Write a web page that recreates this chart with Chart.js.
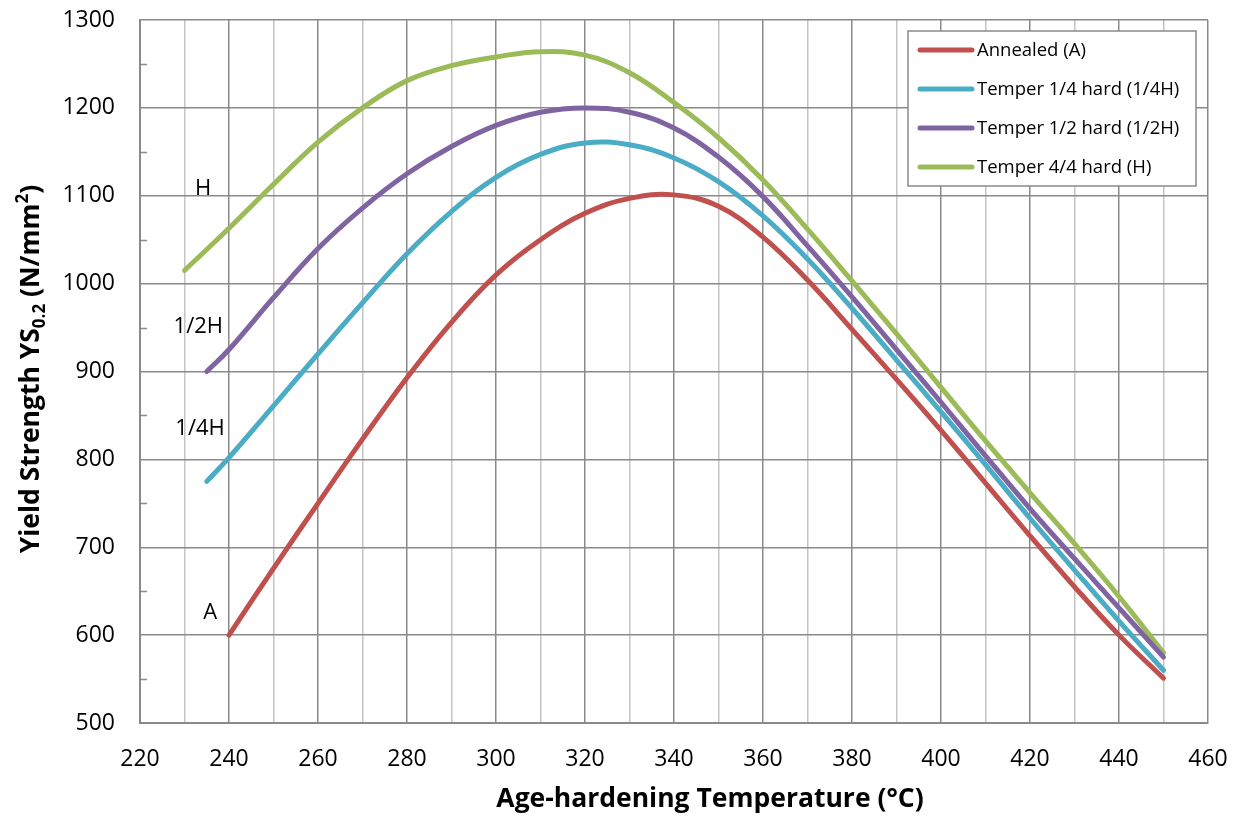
<!DOCTYPE html>
<html>
<head>
<meta charset="utf-8">
<script src="https://cdn.jsdelivr.net/npm/chart.js@4/dist/chart.umd.min.js"></script>
<style>
  body { margin: 0; background: #fff; }
  #wrap { width: 1237px; height: 817px; }
</style>
</head>
<body>
<div id="wrap"><canvas id="chart" width="1237" height="817"></canvas></div>
<script>
// 1. Data
const tempA = [240, 250, 260, 270, 280, 290, 300, 310, 320, 330, 340, 350, 360, 370, 380, 390, 400, 410, 420, 430, 440, 450];
const ysA = [600, 676, 750, 823, 893, 956, 1010, 1050, 1080, 1097, 1101, 1088, 1053, 1004, 948, 891, 833, 773, 713, 655, 600, 551];

const tempQuarter = [235, 240, 250, 260, 270, 280, 290, 300, 310, 320, 330, 340, 350, 360, 370, 380, 390, 400, 410, 420, 430, 440, 450];
const ysQuarter = [775, 802, 861, 920, 978, 1034, 1082, 1121, 1147, 1160, 1158, 1143, 1116, 1077, 1028, 972, 913, 854, 794, 733, 674, 616, 560];

const tempHalf = [235, 240, 250, 260, 270, 280, 290, 300, 310, 320, 330, 340, 350, 360, 370, 380, 390, 400, 410, 420, 430, 440, 450];
const ysHalf = [900, 925, 984, 1040, 1086, 1125, 1156, 1180, 1195, 1200, 1195, 1177, 1144, 1099, 1043, 985, 925, 865, 804, 744, 687, 631, 575];

const tempH = [230, 240, 250, 260, 270, 280, 290, 300, 310, 320, 330, 340, 350, 360, 370, 380, 390, 400, 410, 420, 430, 440, 450];
const ysH = [1015, 1063, 1113, 1161, 1200, 1231, 1248, 1258, 1264, 1260, 1240, 1206, 1166, 1118, 1062, 1003, 943, 882, 821, 762, 704, 644, 580];

const seriesNames = ['Annealed (A)', 'Temper 1/4 hard (1/4H)', 'Temper 1/2 hard (1/2H)', 'Temper 4/4 hard (H)'];
const shortNames = ['A', '1/4H', '1/2H', 'H'];
const minorY = [550, 650, 750, 850, 950, 1050, 1150, 1250];

// 2. Styling
const FONT = '"Open Sans", "DejaVu Sans", sans-serif';
const colors = ['#C0504D', '#4BACC6', '#8064A2', '#9BBB59'];
const gridDark = '#8a8a8a';
const gridLight = '#c4c4c4';

const toPoints = (xs, ys) => xs.map((t, i) => ({ x: t, y: ys[i] }));

// label spots in data units (temp, strength)
const labelSpots = [[235.8, 626], [233.5, 835], [233.1, 951], [234.2, 1108]];

// minor tick marks on the value axis
const minorTicks = {
    id: 'minorTicks',
    beforeDatasetsDraw(chart) {
        const { ctx, scales: { x, y } } = chart;
        ctx.save();
        ctx.strokeStyle = gridDark;
        ctx.lineWidth = 1.5;
        minorY.forEach(v => {
            const py = Math.round(y.getPixelForValue(v)) + 0.5;
            ctx.beginPath();
            ctx.moveTo(x.left, py);
            ctx.lineTo(x.left + 7, py);
            ctx.stroke();
        });
        ctx.restore();
    }
};

// curve names next to the starting points
const curveLabels = {
    id: 'curveLabels',
    afterDatasetsDraw(chart) {
        const { ctx, scales: { x, y } } = chart;
        ctx.save();
        ctx.fillStyle = '#000';
        ctx.font = '22px ' + FONT;
        ctx.textAlign = 'center';
        ctx.textBaseline = 'middle';
        labelSpots.forEach((p, i) => {
            ctx.fillText(shortNames[i], x.getPixelForValue(p[0]), y.getPixelForValue(p[1]));
        });
        ctx.restore();
    }
};

// boxed legend inside the plot + axis titles
const boxLegend = {
    id: 'boxLegend',
    afterDraw(chart) {
        const ctx = chart.ctx;
        ctx.save();
        ctx.fillStyle = '#fff';
        ctx.fillRect(908, 31, 288, 155);
        ctx.strokeStyle = gridDark;
        ctx.lineWidth = 1.5;
        ctx.strokeRect(908, 31, 288, 155);
        ctx.font = '18.5px ' + FONT;
        ctx.textBaseline = 'middle';
        chart.data.datasets.forEach((ds, i) => {
            const yy = 50 + i * 39;
            ctx.strokeStyle = ds.borderColor;
            ctx.lineWidth = 5;
            ctx.lineCap = 'round';
            ctx.beginPath();
            ctx.moveTo(920, yy);
            ctx.lineTo(972, yy);
            ctx.stroke();
            ctx.fillStyle = '#000';
            ctx.fillText(ds.label, 977, yy + 1);
        });

        // x title
        ctx.fillStyle = '#000';
        ctx.font = 'bold 26.5px ' + FONT;
        ctx.textAlign = 'center';
        ctx.textBaseline = 'middle';
        ctx.fillText('Age-hardening Temperature (°C)', 710, 799);

        // y title with sub/superscript
        ctx.translate(30, 369);
        ctx.rotate(-Math.PI / 2);
        ctx.textAlign = 'left';
        ctx.textBaseline = 'alphabetic';
        const big = 'bold 26.5px ' + FONT, small = 'bold 17px ' + FONT;
        const parts = [
            { t: 'Yield Strength YS', f: big, dy: 0 },
            { t: '0.2', f: small, dy: 6 },
            { t: ' (N/mm', f: big, dy: 0 },
            { t: '2', f: small, dy: -11 },
            { t: ')', f: big, dy: 0 }
        ];
        let total = 0;
        parts.forEach(p => { ctx.font = p.f; p.w = ctx.measureText(p.t).width; total += p.w; });
        let cx = -total / 2;
        parts.forEach(p => {
            ctx.font = p.f;
            ctx.fillText(p.t, cx, 9 + p.dy);
            cx += p.w;
        });
        ctx.restore();
    }
};

// 3. Build the chart
const sets = [
    toPoints(tempA, ysA),
    toPoints(tempQuarter, ysQuarter),
    toPoints(tempHalf, ysHalf),
    toPoints(tempH, ysH)
];

new Chart(document.getElementById('chart'), {
    type: 'line',
    data: {
        datasets: sets.map((pts, i) => ({
            label: seriesNames[i],
            data: pts,
            borderColor: colors[i],
            backgroundColor: colors[i],
            borderWidth: 5,
            borderCapStyle: 'round',
            borderJoinStyle: 'round',
            pointRadius: 0,
            tension: 0.4,
            fill: false
        }))
    },
    options: {
        responsive: false,
        animation: false,
        layout: { padding: { top: 20, right: 29, left: 0, bottom: 0 } },
        plugins: {
            legend: { display: false },
            tooltip: { enabled: false }
        },
        scales: {
            x: {
                type: 'linear',
                min: 220,
                max: 460,
                afterFit: s => {
                    s.height = 94;
                    s.paddingLeft = 0;
                    s.paddingRight = 0;
                },
                ticks: {
                    stepSize: 10,
                    autoSkip: false,
                    maxRotation: 0,
                    padding: 23,
                    color: '#000',
                    font: { family: FONT, size: 23 },
                    callback: v => (v % 20 === 0 ? String(v) : '')
                },
                grid: {
                    drawTicks: false,
                    lineWidth: 1.5,
                    color: c => (c.tick && c.tick.value % 20 === 0 ? gridDark : gridLight)
                },
                border: { color: gridDark, width: 2 }
            },
            y: {
                min: 500,
                max: 1300,
                afterFit: s => {
                    s.width = 140;
                    s.paddingTop = 0;
                    s.paddingBottom = 0;
                },
                ticks: {
                    stepSize: 100,
                    padding: 25,
                    color: '#000',
                    font: { family: FONT, size: 23 },
                    callback: v => String(v)
                },
                grid: {
                    drawTicks: false,
                    lineWidth: 1.5,
                    color: gridDark
                },
                border: { color: gridDark, width: 2 }
            }
        }
    },
    plugins: [minorTicks, curveLabels, boxLegend]
});
</script>
</body>
</html>
